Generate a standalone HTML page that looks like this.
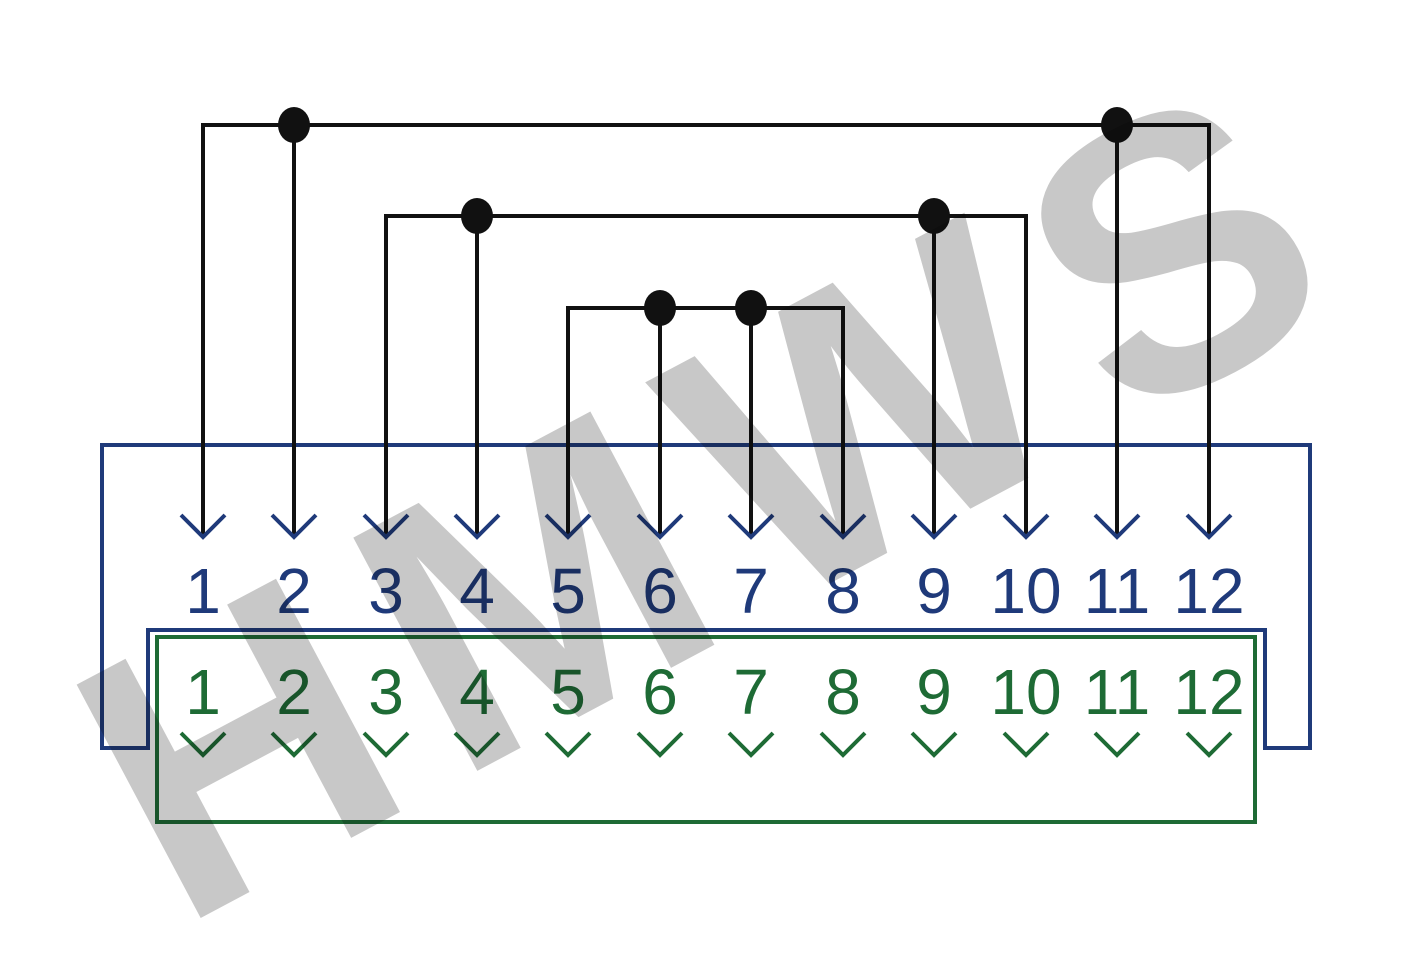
<!DOCTYPE html>
<html><head><meta charset="utf-8"><style>html,body{margin:0;padding:0;background:#fff}svg{display:block}</style></head>
<body>
<svg width="1413" height="975" viewBox="0 0 1413 975" xmlns="http://www.w3.org/2000/svg">
<g fill="none" stroke="#1f3a7a" stroke-width="4">
<path d="M102 445 H1310 V748 H1265 V630 H148 V748 H102 Z"/>
</g>
<rect x="157" y="637" width="1098" height="185" fill="none" stroke="#1e6b35" stroke-width="4"/>
<g stroke="#111" stroke-width="4" fill="none">
<path d="M203 535 V125 H1209 V535"/>
<path d="M294 125 V535 M1117 125 V535"/>
<path d="M386 535 V216 H1026 V535"/>
<path d="M477 216 V535 M934 216 V535"/>
<path d="M568 535 V308 H843 V535"/>
<path d="M660 308 V535 M751 308 V535"/>
</g>
<g fill="#111">
<ellipse cx="294" cy="125" rx="16" ry="18"/><ellipse cx="1117" cy="125" rx="16" ry="18"/>
<ellipse cx="477" cy="216" rx="16" ry="18"/><ellipse cx="934" cy="216" rx="16" ry="18"/>
<ellipse cx="660" cy="308" rx="16" ry="18"/><ellipse cx="751" cy="308" rx="16" ry="18"/>
</g>
<g stroke="#1f3a7a" stroke-width="4" fill="none">
<path d="M181 515 L203 537 L225 515"/><path d="M272 515 L294 537 L316 515"/><path d="M364 515 L386 537 L408 515"/><path d="M455 515 L477 537 L499 515"/><path d="M546 515 L568 537 L590 515"/><path d="M638 515 L660 537 L682 515"/><path d="M729 515 L751 537 L773 515"/><path d="M821 515 L843 537 L865 515"/><path d="M912 515 L934 537 L956 515"/><path d="M1004 515 L1026 537 L1048 515"/><path d="M1095 515 L1117 537 L1139 515"/><path d="M1187 515 L1209 537 L1231 515"/>
</g>
<g stroke="#1e6b35" stroke-width="4" fill="none" transform="translate(0,218)">
<path d="M181 515 L203 537 L225 515"/><path d="M272 515 L294 537 L316 515"/><path d="M364 515 L386 537 L408 515"/><path d="M455 515 L477 537 L499 515"/><path d="M546 515 L568 537 L590 515"/><path d="M638 515 L660 537 L682 515"/><path d="M729 515 L751 537 L773 515"/><path d="M821 515 L843 537 L865 515"/><path d="M912 515 L934 537 L956 515"/><path d="M1004 515 L1026 537 L1048 515"/><path d="M1095 515 L1117 537 L1139 515"/><path d="M1187 515 L1209 537 L1231 515"/>
</g>
<g font-family="Liberation Sans, sans-serif" font-size="64" text-anchor="middle" fill="#1f3a7a">
<text x="203" y="613">1</text><text x="294" y="613">2</text><text x="386" y="613">3</text><text x="477" y="613">4</text><text x="568" y="613">5</text><text x="660" y="613">6</text><text x="751" y="613">7</text><text x="843" y="613">8</text><text x="934" y="613">9</text><text x="1026" y="613">10</text><text x="1117" y="613">11</text><text x="1209" y="613">12</text>
</g>
<g font-family="Liberation Sans, sans-serif" font-size="64" text-anchor="middle" fill="#1e6b35">
<text x="203" y="714">1</text><text x="294" y="714">2</text><text x="386" y="714">3</text><text x="477" y="714">4</text><text x="568" y="714">5</text><text x="660" y="714">6</text><text x="751" y="714">7</text><text x="843" y="714">8</text><text x="934" y="714">9</text><text x="1026" y="714">10</text><text x="1117" y="714">11</text><text x="1209" y="714">12</text>
</g>
<text x="178" y="930" transform="rotate(-28 178 930)" font-family="Liberation Sans, sans-serif" font-weight="bold" font-size="384" letter-spacing="36" fill="#c8c8c8" style="mix-blend-mode:multiply">HMWS</text>
</svg>
</body></html>
